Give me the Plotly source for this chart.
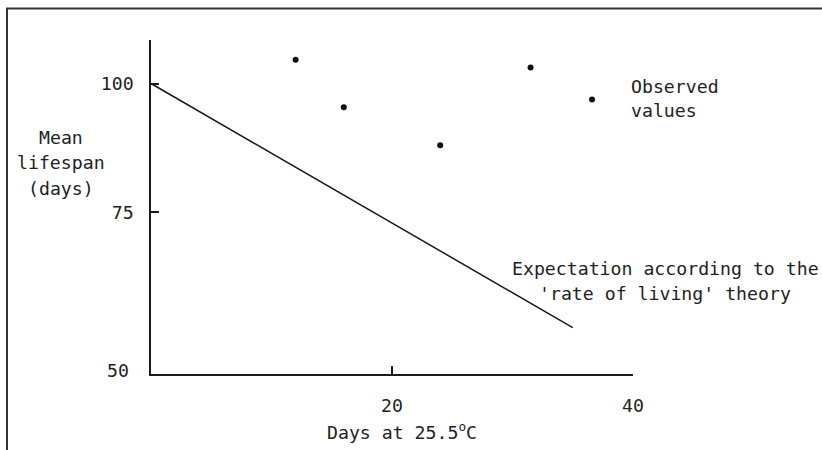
import plotly.graph_objects as go

# Observed mean lifespans after days spent at 25.5 °C
obs_days = [12, 16, 24, 31.5, 36.6]
obs_lifespan = [104.6, 95.4, 88.0, 103.1, 96.9]

# 'Rate of living' expectation (straight line)
exp_days = [0, 35]
exp_lifespan = [100, 52.6]

x_ticks = [20, 40]
y_ticks = [75, 100]
y_origin_label = "50"

W, H = 822, 450
L, R, T, B = 151, 189, 40, 76
plot_w = W - L - R
plot_h = H - T - B

FONT = "DejaVu Sans Mono"
FS = 18.2
INK = "#222222"

fig = go.Figure()

fig.add_trace(go.Scatter(
    x=exp_days, y=exp_lifespan, mode="lines",
    line=dict(color="#1a1a1a", width=1.5),
    hoverinfo="skip", showlegend=False,
))
fig.add_trace(go.Scatter(
    x=obs_days, y=obs_lifespan, mode="markers",
    marker=dict(color="#111111", size=6),
    showlegend=False,
))

def px_to_paper_x(px):
    return (px - L) / plot_w

def px_to_paper_y(py):
    return (H - B - py) / plot_h

def text_block(lines, x_px, y_px_list, xanchor, **extra):
    """One annotation per line so the line spacing can be set exactly."""
    return [
        dict(text=t, xref="paper", yref="paper",
             x=px_to_paper_x(x_px), y=px_to_paper_y(y), xanchor=xanchor,
             yanchor="middle", showarrow=False, **extra)
        for t, y in zip(lines, y_px_list)
    ]

annotations = []
annotations += text_block(["Mean", "lifespan", "(days)"], 61, [137, 162, 188], "center")
annotations += text_block(["Observed", "values"], 629, [86, 110], "left")
annotations += text_block(["Expectation according to the", "'rate of living' theory"],
                          665, [268, 293], "center")
annotations += [
    dict(text="Days at 25.5<sup>o</sup>C", xref="paper", yref="paper",
         x=px_to_paper_x(402), y=px_to_paper_y(431), xanchor="center", yanchor="middle",
         showarrow=False),
    dict(text=y_origin_label, xref="paper", yref="y domain",
         x=px_to_paper_x(131), y=0, xanchor="right", yanchor="middle",
         yshift=4, showarrow=False),
]

fig.update_layout(
    width=W, height=H,
    margin=dict(l=L, r=R, t=T, b=B),
    paper_bgcolor="white", plot_bgcolor="white",
    font=dict(family=FONT, size=FS, color=INK),
    annotations=annotations,
    shapes=[dict(
        type="path", xref="paper", yref="paper",
        path=(f"M {px_to_paper_x(7)},{px_to_paper_y(460)} "
              f"L {px_to_paper_x(7)},{px_to_paper_y(8.5)} "
              f"L {px_to_paper_x(830)},{px_to_paper_y(8.5)}"),
        line=dict(color="#333333", width=2),
    )],
)

fig.update_xaxes(
    range=[0, 40], tickvals=x_ticks, showgrid=False, zeroline=False,
    showline=True, linecolor="#1a1a1a", linewidth=1.5,
    ticks="inside", ticklen=8, tickcolor="#1a1a1a", tickwidth=1.5,
    ticklabelstandoff=14,
)
fig.update_yaxes(
    range=[43.6, 108.45], tickvals=y_ticks, showgrid=False, zeroline=False,
    showline=True, linecolor="#1a1a1a", linewidth=1.5,
    ticks="inside", ticklen=8, tickcolor="#1a1a1a", tickwidth=1.5,
    ticklabelstandoff=12,
)

fig.write_html("out.html")
